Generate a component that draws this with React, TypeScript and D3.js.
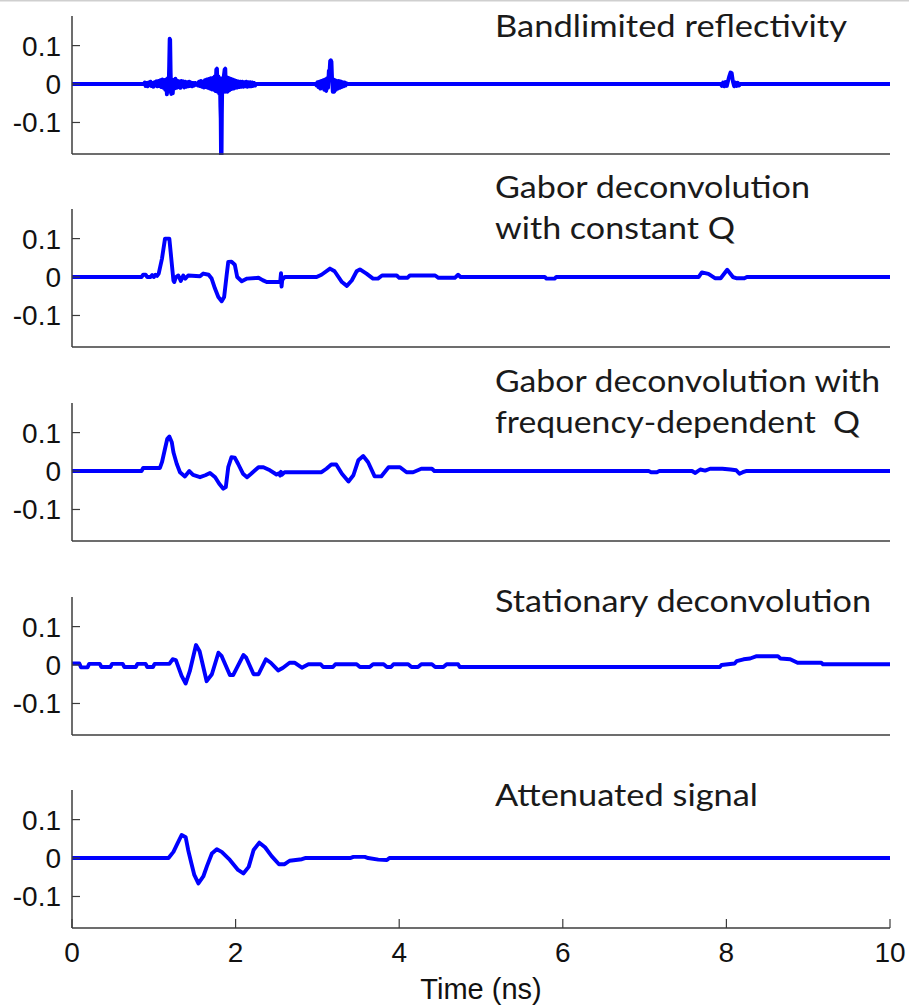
import React from "react";
import * as d3 from "d3";

type Pt = [number, number];

const xTicks = [0, 2, 4, 6, 8, 10];
const yTicks = [0.1, 0, -0.1];
const yTickLabels = ["0.1", "0", "-0.1"];
const xLabel = "Time (ns)";

const titles: string[][] = [
  ["Bandlimited reflectivity"],
  ["Gabor deconvolution", "with constant Q"],
  ["Gabor deconvolution with", "frequency-dependent  Q"],
  ["Stationary deconvolution"],
  ["Attenuated signal"],
];

const reflectivity: Pt[] = [
  [0, 0], [0.88, 0],
  [0.89, 0.004], [0.9, -0.005], [0.912, 0.003], [0.924, -0.006], [0.936, 0.004], [0.948, -0.003], [0.96, 0.006], [0.972, -0.005],
  [0.984, 0.003], [0.996, -0.007], [1.008, 0.005], [1.02, -0.004], [1.032, 0.007], [1.044, -0.006], [1.056, 0.008], [1.068, -0.005],
  [1.08, 0.01], [1.092, -0.008], [1.104, 0.012], [1.116, -0.01], [1.128, 0.01], [1.14, -0.015], [1.15, 0.012], [1.16, -0.027],
  [1.17, 0.015], [1.18, -0.02], [1.188, 0.05], [1.194, 0.118], [1.2, 0.115], [1.206, 0.03], [1.214, -0.026], [1.222, 0.012],
  [1.232, -0.024], [1.242, 0.01], [1.252, -0.012], [1.264, 0.014], [1.276, -0.01], [1.288, 0.009], [1.3, -0.008], [1.312, 0.007],
  [1.324, -0.01], [1.336, 0.008], [1.348, -0.006], [1.36, 0.007], [1.372, -0.009], [1.384, 0.006], [1.396, -0.007], [1.408, 0.005],
  [1.42, -0.006], [1.432, 0.006], [1.444, -0.005], [1.456, 0.004], [1.468, -0.006], [1.48, 0.003], [1.492, -0.004], [1.504, 0.003],
  [1.516, -0.002], [1.528, 0.001],
  [1.54, -0.004], [1.552, 0.006], [1.564, -0.005], [1.576, 0.008], [1.588, -0.007], [1.6, 0.006], [1.612, -0.009], [1.624, 0.01],
  [1.636, -0.008], [1.648, 0.012], [1.66, -0.01], [1.672, 0.013], [1.684, -0.012], [1.696, 0.015], [1.708, -0.014], [1.72, 0.016],
  [1.732, -0.015], [1.744, 0.02], [1.754, -0.018], [1.764, 0.038], [1.772, 0.04], [1.78, -0.02], [1.79, 0.02], [1.8, -0.025],
  [1.808, 0.015], [1.814, -0.06], [1.818, -0.09], [1.822, -0.2], [1.828, -0.2], [1.832, -0.08], [1.838, 0.015], [1.846, -0.022],
  [1.856, 0.02], [1.866, 0.038], [1.874, 0.04], [1.882, -0.02], [1.892, 0.018], [1.902, -0.02], [1.914, 0.016], [1.926, -0.016],
  [1.938, 0.014], [1.95, -0.013], [1.962, 0.012], [1.974, -0.012], [1.986, 0.01], [1.998, -0.01], [2.01, 0.008], [2.022, -0.009],
  [2.034, 0.007], [2.046, -0.008], [2.058, 0.006], [2.07, -0.007], [2.082, 0.006], [2.094, -0.007], [2.106, 0.005], [2.118, -0.006],
  [2.13, 0.006], [2.142, -0.007], [2.154, 0.005], [2.166, -0.006], [2.178, 0.005], [2.19, -0.006], [2.202, 0.004], [2.214, -0.005],
  [2.226, 0.003], [2.238, -0.004], [2.25, 0],
  [2.98, 0],
  [2.99, -0.004], [3.0, 0.005], [3.012, -0.008], [3.024, 0.006], [3.036, -0.012], [3.048, 0.008], [3.06, -0.01], [3.072, 0.01],
  [3.084, -0.015], [3.096, 0.012], [3.108, -0.018], [3.12, 0.015], [3.13, -0.01], [3.14, 0.035], [3.148, 0.03], [3.156, 0.06],
  [3.164, 0.062], [3.172, 0.058], [3.18, 0.01], [3.188, -0.02], [3.196, 0.012], [3.206, -0.02], [3.216, 0.01], [3.226, -0.015],
  [3.236, 0.008], [3.248, -0.012], [3.26, 0.008], [3.272, -0.01], [3.284, 0.007], [3.296, -0.008], [3.308, 0.005], [3.32, -0.006],
  [3.332, 0.004], [3.344, -0.004], [3.356, 0.002], [3.37, 0],
  [7.93, 0],
  [7.945, -0.005], [7.96, 0.004], [7.975, -0.006], [7.99, 0.005], [8.005, -0.005], [8.02, 0.008], [8.035, 0.02], [8.05, 0.03],
  [8.065, 0.028], [8.08, 0.006], [8.095, -0.006], [8.11, 0.004], [8.125, -0.005], [8.14, 0.003], [8.155, -0.004], [8.17, 0],
  [10, 0],
];

const gaborConstQ: Pt[] = [
  [0, 0], [0.85, 0], [0.87, 0.006], [0.9, 0.006], [0.92, 0], [0.96, 0], [0.98, 0.005], [1.0, 0], [1.02, 0.006], [1.04, 0.003],
  [1.06, 0.009], [1.1, 0.048], [1.137, 0.1], [1.19, 0.1], [1.206, 0.065], [1.24, -0.009], [1.25, -0.013], [1.27, 0.0],
  [1.3, 0.004], [1.33, -0.01], [1.36, 0.004], [1.385, -0.004], [1.42, 0.004], [1.565, 0.002], [1.605, 0.009], [1.67, 0.006],
  [1.707, -0.004], [1.748, -0.03], [1.789, -0.052], [1.83, -0.063], [1.86, -0.052], [1.89, 0.004], [1.91, 0.039], [1.95, 0.04],
  [1.99, 0.032], [2.02, 0], [2.075, -0.011], [2.14, -0.004], [2.28, -0.002], [2.33, -0.008], [2.38, -0.013], [2.545, -0.013],
  [2.555, 0.01], [2.562, -0.025], [2.57, -0.008], [2.6, 0], [2.99, 0], [3.05, 0.006], [3.154, 0.022], [3.21, 0.015],
  [3.3, -0.013], [3.36, -0.023], [3.42, -0.009], [3.48, 0.015], [3.52, 0.02], [3.6, 0.009], [3.68, -0.004], [3.74, -0.004],
  [3.79, 0.004], [3.97, 0.004], [4.0, -0.002], [4.1, -0.002], [4.13, 0.004], [4.44, 0.004], [4.48, -0.002], [4.68, -0.002],
  [4.72, 0.006], [4.75, 0], [5.78, 0], [5.8, -0.004], [5.9, -0.004], [5.92, 0], [7.66, 0], [7.7, 0.012], [7.78, 0.008],
  [7.86, -0.003], [7.93, -0.003], [8.01, 0.019], [8.08, 0], [8.12, -0.003], [8.22, -0.003], [8.25, 0], [10, 0],
];

const gaborFreqQ: Pt[] = [
  [0, 0], [0.85, 0], [0.87, 0.008], [1.075, 0.008], [1.1, 0.023], [1.137, 0.058], [1.165, 0.084], [1.19, 0.09], [1.22, 0.075],
  [1.24, 0.049], [1.28, 0.019], [1.32, -0.003], [1.38, -0.014], [1.434, 0], [1.48, -0.01], [1.565, -0.016], [1.63, -0.011],
  [1.687, -0.005], [1.75, -0.016], [1.8, -0.033], [1.85, -0.046], [1.88, -0.042], [1.91, 0.01], [1.95, 0.036], [1.99, 0.035],
  [2.03, 0.019], [2.09, -0.007], [2.14, -0.016], [2.19, -0.007], [2.28, 0.01], [2.34, 0.01], [2.42, 0.002], [2.5, -0.009],
  [2.53, -0.006], [2.545, -0.012], [2.555, -0.002], [2.565, -0.01], [2.6, -0.003], [3.05, -0.003], [3.11, 0.006], [3.17, 0.017],
  [3.23, 0.017], [3.3, -0.007], [3.38, -0.027], [3.44, -0.011], [3.5, 0.028], [3.56, 0.039], [3.62, 0.023], [3.7, -0.014],
  [3.78, -0.014], [3.87, 0.01], [4.01, 0.01], [4.09, -0.003], [4.17, -0.003], [4.27, 0.006], [4.4, 0.006], [4.43, 0],
  [7.05, 0], [7.08, -0.003], [7.15, -0.003], [7.18, 0], [7.58, 0], [7.62, -0.005], [7.68, 0.004], [7.74, 0.001], [7.8, 0.006],
  [7.95, 0.006], [8.05, 0.004], [8.12, 0.002], [8.16, -0.007], [8.2, -0.003], [8.24, 0], [10, 0],
];

const stationary: Pt[] = [
  [0, 0.004], [0.09, 0.004], [0.11, -0.006], [0.19, -0.006], [0.21, 0.003], [0.34, 0.003], [0.36, -0.005], [0.47, -0.005],
  [0.49, 0.003], [0.62, 0.003], [0.64, -0.005], [0.78, -0.005], [0.8, 0.003], [0.9, 0.003], [0.92, -0.005], [0.99, -0.005],
  [1.01, 0.003], [1.19, 0.003], [1.23, 0.015], [1.27, 0.013], [1.34, -0.028], [1.39, -0.048], [1.44, -0.016], [1.516, 0.052],
  [1.56, 0.036], [1.646, -0.042], [1.71, -0.024], [1.79, 0.032], [1.83, 0.023], [1.93, -0.026], [1.97, -0.026], [2.095, 0.026],
  [2.13, 0.019], [2.22, -0.024], [2.28, -0.024], [2.37, 0.015], [2.43, 0.006], [2.52, -0.014], [2.58, -0.007], [2.66, 0.006],
  [2.72, 0.006], [2.81, -0.007], [2.89, 0.002], [3.04, 0.002], [3.07, -0.005], [3.19, -0.005], [3.22, 0.002], [3.48, 0.002],
  [3.52, -0.005], [3.64, -0.005], [3.68, 0.002], [3.81, 0.002], [3.85, -0.005], [3.9, -0.005], [3.93, 0.002], [4.11, 0.002],
  [4.15, -0.005], [4.23, -0.005], [4.27, 0.002], [4.4, 0.002], [4.44, -0.005], [4.54, -0.005], [4.58, 0.002], [4.72, 0.002],
  [4.74, -0.005], [7.92, -0.005], [7.94, 0.0], [8.1, 0.004], [8.125, 0.01], [8.21, 0.015], [8.29, 0.017], [8.37, 0.023],
  [8.63, 0.023], [8.66, 0.017], [8.78, 0.015], [8.87, 0.006], [9.16, 0.006], [9.18, 0.002], [10, 0.002],
];

const attenuated: Pt[] = [
  [0, 0], [1.18, 0], [1.24, 0.016], [1.29, 0.038], [1.34, 0.06], [1.39, 0.054], [1.42, 0.021], [1.46, -0.014], [1.495, -0.044],
  [1.545, -0.066], [1.605, -0.048], [1.65, -0.021], [1.71, 0.012], [1.77, 0.023], [1.83, 0.016], [1.93, -0.005], [2.03, -0.031],
  [2.095, -0.04], [2.16, -0.023], [2.22, 0.021], [2.29, 0.04], [2.36, 0.028], [2.44, 0.005], [2.53, -0.016], [2.6, -0.016],
  [2.66, -0.007], [2.81, -0.003], [2.85, 0], [3.4, 0], [3.44, 0.003], [3.58, 0.003], [3.62, 0], [3.745, -0.004], [3.85, -0.005],
  [3.88, 0], [10, 0],
];

const series: Pt[][] = [reflectivity, gaborConstQ, gaborFreqQ, stationary, attenuated];

// layout
const W = 909;
const H = 1007;
const left = 72;
const right = 890;
const panelTops = [16, 209, 403, 597, 790];
const panelH = 138;
const titleBaselines = [[37], [198, 239], [392, 433], [612], [806]];
const titleWidths = [[352], [315, 240], [385, 365], [376], [263]];
const titleX = 495;
const axisColor = "#3c3c3c";
const lineColor = "#0000ff";
const tickFont = "Arial, 'Liberation Sans', sans-serif";
const titleFont = "Lato, 'Open Sans', sans-serif";

export default function App() {
  const x = d3.scaleLinear().domain([0, 10]).range([left, right]);
  return (
    <div style={{ position: "absolute", left: 0, top: 0, width: W, height: H, background: "#fff" }}>
      <svg width={W} height={H} style={{ display: "block" }}>
        <rect x={0} y={0} width={W} height={H} fill="#fff" />
        <rect x={0} y={0} width={W} height={1.5} fill="#cfcfcf" />
        <defs>
          {panelTops.map((top, i) => (
            <clipPath id={`clip${i}`} key={i}>
              <rect x={left} y={top} width={right - left} height={panelH + 1} />
            </clipPath>
          ))}
        </defs>
        {series.map((data, i) => {
          const top = panelTops[i];
          const y = d3.scaleLinear().domain([-0.182, 0.177]).range([top + panelH, top]);
          const line = d3
            .line<Pt>()
            .x((d) => x(d[0]))
            .y((d) => y(d[1]));
          const isLast = i === series.length - 1;
          return (
            <g key={i}>
              {titles[i].map((t, j) => (
                <text
                  key={j}
                  x={titleX}
                  y={titleBaselines[i][j]}
                  fontFamily={titleFont}
                  fontSize={30}
                  fill="#1a1a1a"
                  textLength={titleWidths[i][j]}
                  lengthAdjust="spacingAndGlyphs"
                  style={{ whiteSpace: "pre" }}
                >
                  {t}
                </text>
              ))}
              <path
                d={line(data) || ""}
                fill="none"
                stroke={lineColor}
                strokeWidth={3.9}
                strokeLinejoin="round"
                clipPath={`url(#clip${i})`}
              />
              <line x1={left} x2={left} y1={top} y2={top + panelH} stroke={axisColor} strokeWidth={1.5} />
              <line x1={left} x2={right} y1={top + panelH} y2={top + panelH} stroke={axisColor} strokeWidth={1.5} />
              {yTicks.map((v, k) => (
                <g key={k}>
                  <line x1={left} x2={left + 8} y1={y(v)} y2={y(v)} stroke={axisColor} strokeWidth={1.2} />
                  <text
                    x={61}
                    y={y(v) + 10}
                    textAnchor="end"
                    fontFamily={tickFont}
                    fontSize={28}
                    fill="#111"
                  >
                    {yTickLabels[k]}
                  </text>
                </g>
              ))}
              {isLast &&
                xTicks.map((t) => (
                  <g key={t}>
                    <line
                      x1={x(t)}
                      x2={x(t)}
                      y1={top + panelH}
                      y2={top + panelH - 9}
                      stroke={axisColor}
                      strokeWidth={1.2}
                    />
                    <text
                      x={x(t)}
                      y={top + panelH + 34}
                      textAnchor="middle"
                      fontFamily={tickFont}
                      fontSize={28}
                      fill="#111"
                    >
                      {t}
                    </text>
                  </g>
                ))}
              {isLast && (
                <text
                  x={(left + right) / 2}
                  y={999}
                  textAnchor="middle"
                  fontFamily={tickFont}
                  fontSize={29}
                  fill="#111"
                >
                  {xLabel}
                </text>
              )}
            </g>
          );
        })}
      </svg>
    </div>
  );
}
